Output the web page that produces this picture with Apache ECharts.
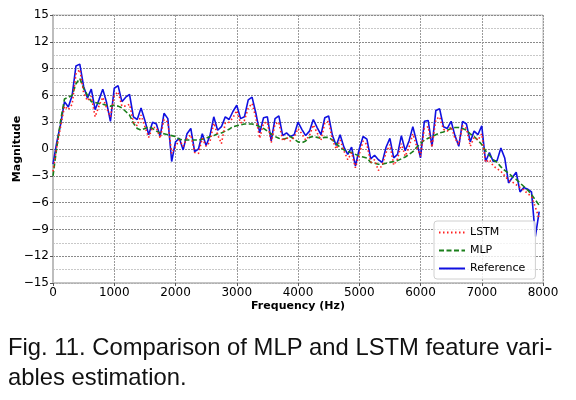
<!DOCTYPE html>
<html><head><meta charset="utf-8">
<script src="https://cdn.jsdelivr.net/npm/echarts@6/dist/echarts.min.js"></script>
<style>html,body{margin:0;padding:0;background:#fff;}#c{width:576px;height:400px;}</style>
</head><body><div id="c"></div>
<script>
// Frequency bins (Hz), 62.5 Hz spacing
const freqs = [];
for (let i = 0; i < 128; i++) freqs.push(i * 62.5);

const reference = [
-1.7,0.8,2.8,5.3,4.7,6.0,9.3,9.5,7.0,5.7,6.7,4.4,5.5,6.7,5.2,3.1,
6.8,7.1,5.3,5.8,6.1,3.6,3.3,4.6,3.2,1.6,3.0,2.8,1.4,4.0,3.4,-1.4,
0.8,1.2,-0.1,1.7,2.3,-0.3,0.0,1.7,0.4,1.5,3.6,2.1,2.5,3.6,3.3,4.2,
4.9,3.4,3.6,5.5,5.8,4.0,1.8,3.5,3.6,0.9,3.4,3.7,1.5,1.8,1.4,1.6,
3.0,2.2,1.5,2.0,3.3,2.4,1.6,3.5,3.7,1.5,0.4,1.6,0.2,-0.6,0.2,-1.9,
0.0,1.4,1.1,-1.1,-0.7,-1.2,-1.5,0.2,1.2,-1.0,-0.6,1.5,-0.2,0.9,2.5,0.8,
-1.0,3.1,3.2,0.3,4.3,4.5,2.5,2.3,3.1,1.5,0.3,3.1,2.8,0.8,2.0,1.6,
2.6,-1.4,-0.4,-1.4,-1.3,0.1,-1.0,-3.8,-3.2,-2.6,-4.8,-4.3,-4.5,-4.8,-9.8,-7.0
];

const lstm = [
-2.5,0.3,2.5,4.8,4.4,5.0,8.4,8.9,6.3,5.4,5.9,3.6,4.8,5.8,4.6,3.6,
6.0,6.4,4.8,4.8,5.0,3.0,2.6,3.8,2.5,1.3,2.4,2.4,1.2,3.3,3.0,-0.5,
0.3,1.0,0.3,1.2,1.6,-0.4,-0.5,1.2,0.3,0.8,2.9,1.6,0.6,2.9,3.0,3.5,
4.3,2.9,3.2,4.6,5.1,3.5,1.2,2.9,3.0,0.7,2.8,3.0,0.9,1.3,0.9,1.3,
2.3,1.7,1.0,1.5,2.7,1.8,1.0,2.9,3.1,1.0,0.0,1.0,-0.2,-1.2,-0.4,-2.1,
-0.6,0.9,0.5,-1.5,-1.2,-2.4,-1.8,-0.4,0.5,-1.8,-1.1,0.6,-0.8,0.2,1.7,0.3,
-0.8,2.3,2.5,0.2,3.3,3.6,2.2,2.0,2.5,1.2,0.5,2.6,2.3,0.3,1.3,1.0,
1.7,-1.5,-1.2,-1.9,-2.2,-2.5,-3.0,-3.5,-3.7,-4.0,-4.3,-4.6,-5.0,-5.3,-6.5,-7.8
];

const mlp = [
-3.0,0.2,3.2,5.6,5.8,6.0,7.3,7.9,6.8,6.0,5.3,5.2,5.1,5.0,4.9,4.8,
4.9,4.8,4.6,4.2,3.8,2.9,2.3,2.1,2.3,2.5,2.3,2.0,1.8,1.7,1.6,1.5,
1.4,1.1,1.0,1.0,1.0,1.0,1.0,1.1,1.2,1.4,1.5,1.7,1.8,2.0,2.2,2.5,
2.6,2.7,2.8,2.8,2.8,2.7,2.5,2.3,2.0,1.7,1.4,1.2,1.1,1.2,1.4,1.1,
0.8,0.7,0.9,1.3,1.4,1.3,1.2,1.3,1.3,1.0,0.6,0.2,-0.1,-0.3,-0.4,-0.6,
-0.8,-0.9,-1.0,-1.5,-1.6,-1.7,-1.7,-1.6,-1.5,-1.4,-1.3,-1.1,-0.9,-0.6,-0.3,0.2,
0.6,1.0,1.2,1.4,1.6,1.8,1.9,2.1,2.3,2.4,2.4,2.3,2.1,1.7,1.4,1.0,
0.5,-0.2,-0.7,-1.2,-1.5,-2.0,-2.4,-2.7,-3.1,-3.4,-3.8,-4.2,-4.6,-5.1,-5.7,-6.3
];

const xTicks = [0,1000,2000,3000,4000,5000,6000,7000,8000];
const yTicks = [-15,-12,-9,-6,-3,0,3,6,9,12,15];
const captionLines = ["Fig. 11. Comparison of MLP and LSTM feature vari-", "ables estimation."];

const pair = arr => freqs.map((f, i) => [f, arr[i]]);
const minus = v => String(v).replace('-', '\u2212');

const chart = echarts.init(document.getElementById('c'), null, {renderer: 'canvas'});
const FONT = 'DejaVu Sans';
chart.setOption({
  animation: false,
  backgroundColor: '#fff',
  grid: {left: 53, right: 33, top: 15, bottom: 117, show: true, borderColor: '#bdbdbd', borderWidth: 1,
         containLabel: false, outerBoundsMode: 'none'},
  xAxis: {
    type: 'value', min: xTicks[0], max: xTicks[xTicks.length-1], interval: 1000,
    name: 'Frequency (Hz)', nameLocation: 'middle', nameGap: 18, nameMoveOverlap: false,
    nameTextStyle: {fontFamily: FONT, fontWeight: 'bold', fontSize: 11, color: '#000'},
    axisLine: {show: true, onZero: false, lineStyle: {color: '#bdbdbd', width: 1.5}},
    axisTick: {show: true, length: 3, lineStyle: {color: '#555'}},
    axisLabel: {fontFamily: FONT, fontSize: 12, color: '#000', margin: 4, formatter: v => minus(v)},
    splitLine: {show: true, lineStyle: {color: '#9a9a9a', type: [2, 1], width: 1}}
  },
  yAxis: {
    type: 'value', min: yTicks[0], max: yTicks[yTicks.length-1], interval: 3,
    name: 'Magnitude', nameLocation: 'middle', nameGap: 30, nameRotate: 90, nameMoveOverlap: false,
    nameTextStyle: {fontFamily: FONT, fontWeight: 'bold', fontSize: 11, color: '#000'},
    axisLine: {show: true, onZero: false, lineStyle: {color: '#bdbdbd', width: 2}},
    axisTick: {show: true, length: 3, lineStyle: {color: '#555'}},
    axisLabel: {fontFamily: FONT, fontSize: 12, color: '#000', margin: 4, formatter: v => minus(v)},
    splitLine: {show: true, lineStyle: {color: '#8a8a8a', type: [2, 1], width: 1}},
    minorTick: {show: false, splitNumber: 2},
    minorSplitLine: {show: true, lineStyle: {color: '#c8c8c8', type: [2, 1], width: 1}}
  },
  legend: {
    orient: 'vertical', left: 434, top: 221, itemWidth: 26, itemHeight: 10, itemGap: 7,
    padding: [6, 10, 5, 4],
    backgroundColor: 'rgba(255,255,255,0.8)', borderColor: '#d0d0d0', borderWidth: 1, borderRadius: 3,
    textStyle: {fontFamily: FONT, fontSize: 11, color: '#000'},
    itemStyle: {opacity: 0},
    data: ['LSTM', 'MLP', 'Reference']
  },
  series: [
    {name: 'Reference', type: 'line', data: pair(reference), symbol: 'none', z: 2,
     lineStyle: {color: '#1010e0', width: 1.6, type: 'solid'}, itemStyle: {color: '#1010e0'}},
    {name: 'MLP', type: 'line', data: pair(mlp), symbol: 'none', z: 3,
     lineStyle: {color: '#1a7f1a', width: 1.6, type: [5, 2.5]}, itemStyle: {color: '#1a7f1a'}},
    {name: 'LSTM', type: 'line', data: pair(lstm), symbol: 'none', z: 4,
     lineStyle: {color: '#ff2020', width: 1.6, type: [1.5, 2.5]}, itemStyle: {color: '#ff2020'}}
  ],
  graphic: [
    {type: 'text', left: 8, top: 336, style: {text: captionLines[0], font: '23.8px "Liberation Sans", Arial, sans-serif', fill: '#111'}},
    {type: 'text', left: 8, top: 366, style: {text: captionLines[1], font: '23.8px "Liberation Sans", Arial, sans-serif', fill: '#111'}}
  ]
});
</script></body></html>
